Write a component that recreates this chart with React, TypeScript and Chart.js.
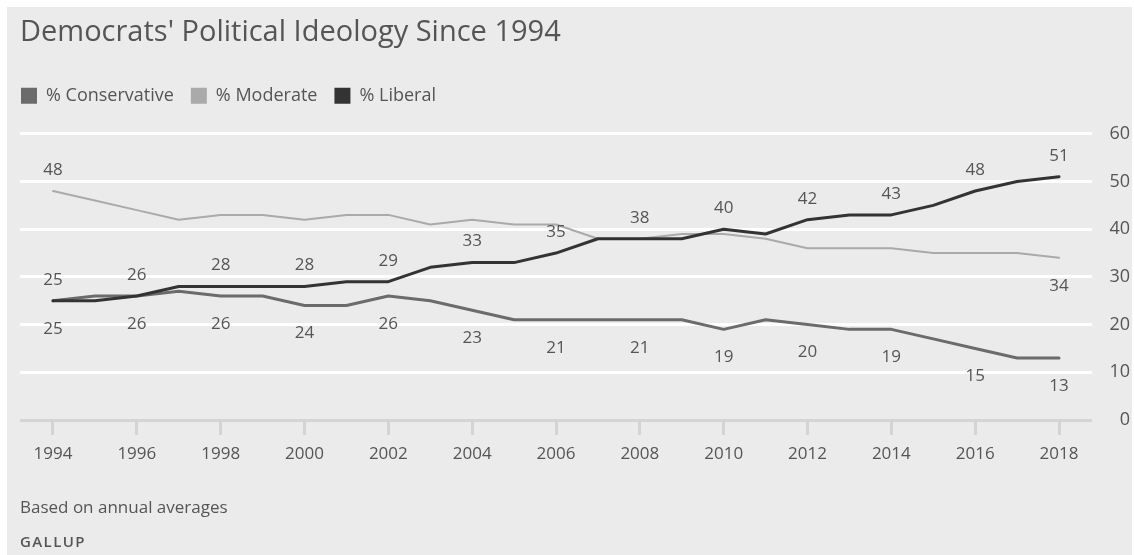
import React, { useEffect, useRef } from 'react';
import { Chart, registerables } from 'chart.js';

Chart.register(...registerables);

const years = [
  1994, 1995, 1996, 1997, 1998, 1999, 2000, 2001, 2002, 2003, 2004, 2005, 2006,
  2007, 2008, 2009, 2010, 2011, 2012, 2013, 2014, 2015, 2016, 2017, 2018,
];
const conservative = [25, 26, 26, 27, 26, 26, 24, 24, 26, 25, 23, 21, 21, 21, 21, 21, 19, 21, 20, 19, 19, 17, 15, 13, 13];
const moderate = [48, 46, 44, 42, 43, 43, 42, 43, 43, 41, 42, 41, 41, 38, 38, 39, 39, 38, 36, 36, 36, 35, 35, 35, 34];
const liberal = [25, 25, 26, 28, 28, 28, 28, 29, 29, 32, 33, 33, 35, 38, 38, 38, 40, 39, 42, 43, 43, 45, 48, 50, 51];
const yTicks = [0, 10, 20, 30, 40, 50, 60];
const xTickYears = years.filter((y) => y % 2 === 0);

const TITLE = "Democrats' Political Ideology Since 1994";
const NOTE = 'Based on annual averages';
const SOURCE = 'GALLUP';

const FONT = "'Open Sans', Roboto, 'Liberation Sans', sans-serif";
const TEXT = '#555555';

const LEGEND_PAD = 17;

const legendTweak = {
  id: 'legendTweak',
  afterInit(chart: any) {
    const legend = chart.legend;
    if (!legend) return;
    const orig = legend.fit;
    legend.fit = function () {
      orig.call(this);
      this.height += 19;
    };
  },
  afterLayout(chart: any) {
    if (chart.legend) chart.legend.left -= LEGEND_PAD - 1;
  },
};

const valueLabels = {
  id: 'valueLabels',
  afterDatasetsDraw(chart: any) {
    const ctx = chart.ctx;
    ctx.save();
    ctx.font = `17px ${FONT}`;
    ctx.fillStyle = TEXT;
    ctx.textAlign = 'center';
    ctx.textBaseline = 'middle';
    chart.data.datasets.forEach((ds: any, di: number) => {
      const meta = chart.getDatasetMeta(di);
      const n = meta.data.length;
      meta.data.forEach((pt: any, i: number) => {
        const yr = chart.data.labels[i];
        let off: number | null = null;
        if (ds.labelMode === 'above' && yr % 2 === 0) off = -21;
        else if (ds.labelMode === 'below' && yr % 2 === 0) off = 28;
        else if (ds.labelMode === 'ends') {
          if (i === 0) off = -21;
          else if (i === n - 1) off = 28;
        }
        if (off === null) return;
        ctx.fillText(String(ds.data[i]), pt.x, pt.y + off);
      });
    });
    ctx.restore();
  },
};

export default function App() {
  const ref = useRef<HTMLCanvasElement | null>(null);

  useEffect(() => {
    if (!ref.current) return;
    Chart.defaults.font.family = FONT;
    const chart = new Chart(ref.current, {
      type: 'line',
      data: {
        labels: years,
        datasets: [
          {
            label: '% Conservative',
            data: conservative,
            borderColor: '#6b6b6b',
            backgroundColor: '#6b6b6b',
            borderWidth: 3,
            order: 1,
            labelMode: 'below',
          } as any,
          {
            label: '% Moderate',
            data: moderate,
            borderColor: '#aaaaaa',
            backgroundColor: '#aaaaaa',
            borderWidth: 2,
            order: 2,
            labelMode: 'ends',
          } as any,
          {
            label: '% Liberal',
            data: liberal,
            borderColor: '#333333',
            backgroundColor: '#333333',
            borderWidth: 3,
            order: 0,
            labelMode: 'above',
          } as any,
        ],
      },
      options: {
        responsive: false,
        animation: false,
        events: [],
        layout: { padding: { left: 13, right: 2, top: 0, bottom: 90 } },
        elements: {
          point: { radius: 0 },
          line: {
            tension: 0,
            borderJoinStyle: 'round',
            borderCapStyle: 'round',
          },
        },
        plugins: {
          tooltip: { enabled: false },
          title: {
            display: true,
            text: TITLE,
            align: 'start',
            color: TEXT,
            font: { size: 29, weight: 'normal', family: FONT },
            padding: { top: 8, bottom: 20 },
          },
          legend: {
            display: true,
            position: 'top',
            align: 'start',
            labels: {
              color: TEXT,
              font: { size: 18, family: FONT },
              boxWidth: 16,
              boxHeight: 16,
              padding: LEGEND_PAD,
              generateLabels: (c: any) =>
                c.data.datasets.map((d: any, i: number) => ({
                  text: d.label,
                  fillStyle: d.backgroundColor,
                  strokeStyle: d.backgroundColor,
                  lineWidth: 0,
                  hidden: false,
                  datasetIndex: i,
                  fontColor: TEXT,
                })),
            },
          },
        },
        scales: {
          x: {
            type: 'linear',
            min: years[0] - 0.787,
            max: years[years.length - 1] + 0.787,
            afterBuildTicks: (scale: any) => {
              scale.ticks = xTickYears.map((v) => ({ value: v }));
            },
            afterFit: (scale: any) => {
              scale.height = 45;
            },
            ticks: {
              color: TEXT,
              font: { size: 17, family: FONT },
              padding: 9,
              maxRotation: 0,
              autoSkip: false,
              callback: (v: any) => String(v),
            },
            grid: {
              drawOnChartArea: false,
              drawTicks: true,
              tickLength: 15,
              color: '#d4d4d4',
              lineWidth: 3,
            },
            border: { display: false },
          },
          y: {
            position: 'right',
            min: 0,
            max: 60,
            afterBuildTicks: (scale: any) => {
              scale.ticks = yTicks.map((v) => ({ value: v }));
            },
            afterFit: (scale: any) => {
              scale.width = 38;
            },
            ticks: {
              color: TEXT,
              font: { size: 18, family: FONT },
              padding: 16,
              crossAlign: 'far',
            },
            grid: {
              drawTicks: false,
              color: (c: any) => (c.tick && c.tick.value === 0 ? '#d4d4d4' : '#ffffff'),
              lineWidth: 3,
            },
            border: { display: false },
          },
        },
      } as any,
      plugins: [legendTweak, valueLabels],
    });
    return () => chart.destroy();
  }, []);

  return (
    <div
      style={{
        position: 'fixed',
        left: 7,
        top: 7,
        width: 1125,
        height: 548,
        background: '#ebebeb',
        fontFamily: FONT,
      }}
    >
      <canvas ref={ref} width={1125} height={548} style={{ display: 'block' }} />
      <div
        style={{
          position: 'absolute',
          left: 13,
          top: 489,
          fontSize: 17,
          lineHeight: '22px',
          color: TEXT,
        }}
      >
        {NOTE}
      </div>
      <div
        style={{
          position: 'absolute',
          left: 13,
          top: 523,
          fontSize: 15,
          lineHeight: '22px',
          fontWeight: 600,
          letterSpacing: 1.4,
          color: TEXT,
        }}
      >
        {SOURCE}
      </div>
    </div>
  );
}
